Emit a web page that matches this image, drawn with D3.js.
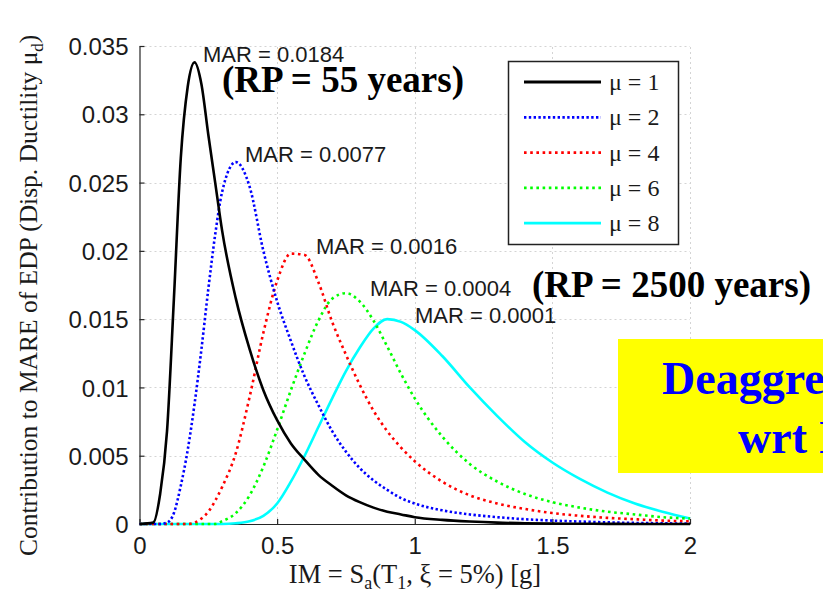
<!DOCTYPE html>
<html>
<head>
<meta charset="utf-8">
<script src="https://cdn.jsdelivr.net/npm/d3@7"></script>
<style>
  html, body { margin: 0; padding: 0; background: #ffffff; overflow: hidden; }
  svg { display: block; }
</style>
</head>
<body>
<svg id="chart" width="823" height="602"></svg>
<script>
// ---------------- DATA ----------------
const imValues = [0, 0.05, 0.075, 0.1, 0.125, 0.15, 0.175, 0.2, 0.225, 0.25, 0.275, 0.3, 0.35, 0.4, 0.45, 0.5, 0.55, 0.6, 0.65, 0.7, 0.75, 0.8, 0.85, 0.9, 0.95, 1.0, 1.1, 1.2, 1.3, 1.4, 1.5, 1.6, 1.7, 1.8, 1.9, 2.0];

const mu1Values = [0, 0.0001, 0.0022, 0.0068, 0.0165, 0.0268, 0.0320, 0.0338, 0.0322, 0.0285, 0.0250, 0.0215, 0.0165, 0.0128, 0.0098, 0.0076, 0.0059, 0.0047, 0.0036, 0.0028, 0.0021, 0.0016, 0.0012, 0.0009, 0.0007, 0.0005, 0.0003, 0.00018, 0.0001, 0.00006, 0.00003, 0.00002, 0.00001, 0, 0, 0];
const mu2Values = [0, 0, 0, 0.0001, 0.0008, 0.0028, 0.0054, 0.0088, 0.0128, 0.0172, 0.0212, 0.0243, 0.0265, 0.0247, 0.0200, 0.0163, 0.0134, 0.0108, 0.0087, 0.0068, 0.0053, 0.0041, 0.0032, 0.0025, 0.0019, 0.0015, 0.0010, 0.0007, 0.0005, 0.00035, 0.00025, 0.00018, 0.00012, 0.00008, 0.00005, 0.00003];
const mu4Values = [0, 0, 0, 0, 0, 0, 0, 0.0001, 0.0004, 0.0009, 0.0017, 0.0027, 0.0052, 0.0093, 0.0140, 0.0178, 0.0198, 0.0197, 0.0177, 0.0148, 0.0124, 0.0102, 0.0083, 0.0068, 0.0056, 0.0046, 0.0031, 0.0021, 0.0015, 0.0011, 0.0008, 0.0006, 0.00045, 0.00035, 0.00025, 0.0002];
const mu6Values = [0, 0, 0, 0, 0, 0, 0, 0, 0, 0, 0, 0.0002, 0.0008, 0.0021, 0.0042, 0.0069, 0.0098, 0.0125, 0.0149, 0.0165, 0.0169, 0.0163, 0.0149, 0.0130, 0.0110, 0.0092, 0.0064, 0.0044, 0.0031, 0.0022, 0.0016, 0.0012, 0.0009, 0.0007, 0.0005, 0.0004];
const mu8Values = [0, 0, 0, 0, 0, 0, 0, 0, 0, 0, 0, 0, 0.00005, 0.0002, 0.0006, 0.0015, 0.0031, 0.0050, 0.0071, 0.0092, 0.0112, 0.0129, 0.0143, 0.0150, 0.0148, 0.0142, 0.0123, 0.0100, 0.0079, 0.0060, 0.0045, 0.0033, 0.0023, 0.0015, 0.0009, 0.0004];

const seriesNames = ["μ = 1", "μ = 2", "μ = 4", "μ = 6", "μ = 8"];
const seriesColors = ["#000000", "#0000ff", "#ff0000", "#00ff00", "#00ffff"];
const seriesDash = [null, "2.4 2.4", "2.6 3.6", "2.6 3.6", null];

const marLabels = ["MAR = 0.0184", "MAR = 0.0077", "MAR = 0.0016", "MAR = 0.0004", "MAR = 0.0001"];
const rpLabels = ["(RP = 55 years)", "(RP = 2500 years)"];

const xTickValues = [0, 0.5, 1, 1.5, 2];
const xTickLabels = ["0", "0.5", "1", "1.5", "2"];
const yTickValues = [0, 0.005, 0.01, 0.015, 0.02, 0.025, 0.03, 0.035];
const yTickLabels = ["0", "0.005", "0.01", "0.015", "0.02", "0.025", "0.03", "0.035"];

// ---------------- CHART ----------------
const svg = d3.select("#chart");
const SANS = "'Liberation Sans', Arial, Helvetica, sans-serif";
const SERIF = "'Liberation Serif', 'Times New Roman', Times, serif";

const x = d3.scaleLinear().domain([0, 2]).range([139.5, 690]);
const y = d3.scaleLinear().domain([0, 0.035]).range([524, 46]);

// grid
const grid = svg.append("g").attr("stroke", "#d4d4d4").attr("stroke-width", 1).attr("stroke-dasharray", "2 3");
grid.selectAll("line.gx").data(xTickValues.slice(1)).join("line")
  .attr("x1", d => Math.round(x(d)) + 0.5).attr("x2", d => Math.round(x(d)) + 0.5)
  .attr("y1", y(0)).attr("y2", y(0.035));
grid.selectAll("line.gy").data(yTickValues.slice(1)).join("line")
  .attr("x1", x(0)).attr("x2", x(2))
  .attr("y1", d => Math.round(y(d)) + 0.5).attr("y2", d => Math.round(y(d)) + 0.5);

// axes
const xAxis = d3.axisBottom(x).tickValues(xTickValues).tickFormat((d, i) => xTickLabels[i]).tickSizeInner(-5).tickSizeOuter(0).tickPadding(13);
const yAxis = d3.axisLeft(y).tickValues(yTickValues).tickFormat((d, i) => yTickLabels[i]).tickSizeInner(-5).tickSizeOuter(0).tickPadding(11);

const gx = svg.append("g").attr("transform", `translate(0,${y(0)})`).call(xAxis);
const gy = svg.append("g").attr("transform", `translate(${x(0)},0)`).call(yAxis);
[gx, gy].forEach(g => {
  g.select(".domain").attr("stroke", "#262626").attr("stroke-width", 1.2);
  g.selectAll(".tick line").attr("stroke", "#262626").attr("stroke-width", 1.2);
  g.selectAll(".tick text").attr("font-family", SANS).attr("font-size", 24).attr("fill", "#1a1a1a");
});
gx.selectAll(".tick text").attr("dy", "0.71em");
gy.selectAll(".tick text").attr("dy", "0.36em");

// curves
const seriesValues = [mu1Values, mu2Values, mu4Values, mu6Values, mu8Values];
const line = d3.line().x((d, i) => x(imValues[i])).y(d => y(d)).curve(d3.curveMonotoneX);
const drawOrder = [4, 3, 2, 1, 0];
svg.append("g").selectAll("path").data(drawOrder).join("path")
  .attr("d", k => line(seriesValues[k]))
  .attr("fill", "none")
  .attr("stroke", k => seriesColors[k])
  .attr("stroke-width", 2.6)
  .attr("stroke-dasharray", k => seriesDash[k]);

// annotations
const marPos = [[203, 62], [245, 162], [316, 254], [370, 296], [415, 323]];
svg.append("g").selectAll("text").data(marLabels).join("text")
  .attr("x", (d, i) => marPos[i][0]).attr("y", (d, i) => marPos[i][1])
  .attr("font-family", SANS).attr("font-size", 22).attr("fill", "#1a1a1a")
  .text(d => d);

const rpPos = [[222, 92], [532, 297]];
svg.append("g").selectAll("text").data(rpLabels).join("text")
  .attr("x", (d, i) => rpPos[i][0]).attr("y", (d, i) => rpPos[i][1])
  .attr("font-family", SERIF).attr("font-size", 37).attr("font-weight", "bold").attr("fill", "#000")
  .text(d => d);

// legend
const lg = svg.append("g");
lg.append("rect").attr("x", 508.5).attr("y", 61.5).attr("width", 170).attr("height", 183)
  .attr("fill", "#fff").attr("stroke", "#222").attr("stroke-width", 1.5);
const legRows = lg.selectAll("g.row").data(seriesNames).join("g").attr("class", "row")
  .attr("transform", (d, i) => `translate(0,${82 + i * 35.3})`);
legRows.append("line").attr("x1", 524).attr("x2", 601).attr("y1", 0).attr("y2", 0)
  .attr("stroke", (d, i) => seriesColors[i]).attr("stroke-width", 2.8)
  .attr("stroke-dasharray", (d, i) => seriesDash[i]);
legRows.append("text").attr("x", 609).attr("y", 8)
  .attr("font-family", SERIF).attr("font-size", 24).attr("fill", "#1a1a1a")
  .text(d => d);

// axis labels
const xl = svg.append("text").attr("x", 415).attr("y", 583).attr("text-anchor", "middle")
  .attr("font-family", SERIF).attr("font-size", 26.5).attr("fill", "#1a1a1a");
xl.append("tspan").text("IM = S");
xl.append("tspan").attr("font-size", 18).attr("dy", 6).text("a");
xl.append("tspan").attr("dy", -6).text("(T");
xl.append("tspan").attr("font-size", 18).attr("dy", 6).text("1");
xl.append("tspan").attr("dy", -6).text(", ξ = 5%) [g]");

const yl = svg.append("text").attr("transform", "translate(37,556) rotate(-90)")
  .attr("font-family", SERIF).attr("font-size", 25.5).attr("fill", "#1a1a1a");
yl.append("tspan").text("Contribution to MARE of EDP (Disp. Ductility μ");
yl.append("tspan").attr("font-size", 17).attr("dy", 6).text("d");
yl.append("tspan").attr("dy", -6).text(")");

// yellow box
svg.append("rect").attr("x", 618).attr("y", 339).attr("width", 220).attr("height", 134).attr("fill", "#ffff00");
svg.append("text").attr("x", 662).attr("y", 394)
  .attr("font-family", SERIF).attr("font-size", 46).attr("font-weight", "bold").attr("fill", "#0000ff")
  .text("Deaggregation");
svg.append("text").attr("x", 738).attr("y", 453)
  .attr("font-family", SERIF).attr("font-size", 46).attr("font-weight", "bold").attr("fill", "#0000ff")
  .text("wrt IM");
</script>
</body>
</html>
